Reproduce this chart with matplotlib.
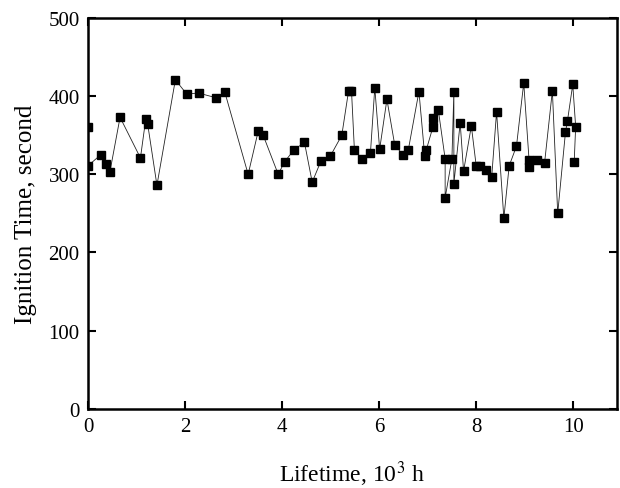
import matplotlib
matplotlib.use('Agg')
import matplotlib.pyplot as plt

# lifetime (10^3 h) and ignition time (s)
lifetime = [0.0, 0.0, 0.26, 0.37, 0.45, 0.66, 1.08, 1.19, 1.23, 1.42,
            1.80, 2.03, 2.28, 2.64, 2.82, 3.30, 3.51, 3.61, 3.92, 4.05,
            4.24, 4.46, 4.62, 4.80, 4.99, 5.23, 5.37, 5.43, 5.49, 5.65,
            5.82, 5.91, 6.01, 6.16, 6.32, 6.49, 6.60, 6.82, 6.94, 6.97,
            7.11, 7.11, 7.22, 7.36, 7.36, 7.50, 7.54, 7.54, 7.67, 7.74,
            7.90, 8.00, 8.07, 8.21, 8.32, 8.42, 8.57, 8.68, 8.83, 8.98,
            9.09, 9.09, 9.26, 9.41, 9.57, 9.68, 9.84, 9.88, 9.99, 10.05,
            10.02]
ignition = [360, 311, 325, 313, 303, 373, 321, 371, 364, 286,
            421, 403, 404, 398, 405, 300, 356, 350, 300, 316,
            331, 341, 290, 317, 323, 350, 407, 407, 331, 320,
            327, 411, 332, 396, 338, 325, 331, 406, 323, 331,
            361, 372, 382, 320, 270, 320, 406, 288, 366, 304,
            362, 311, 311, 305, 297, 380, 244, 311, 336, 417,
            318, 310, 318, 315, 407, 250, 354, 368, 415, 361,
            316]

plt.rcParams['font.family'] = ['Liberation Serif', 'DejaVu Serif']
plt.rcParams['mathtext.fontset'] = 'stix'

fig = plt.figure(figsize=(6.2, 4.89), dpi=100)
ax = fig.add_axes([0.142, 0.162, 0.853, 0.799])

ax.plot(lifetime, ignition, color='#222222', lw=0.6,
        marker='s', markersize=6, markerfacecolor='black',
        markeredgecolor='black')

ax.set_xlim(0, 10.9)
ax.set_ylim(0, 500)
ax.set_xticks([0, 2, 4, 6, 8, 10])
ax.set_yticks([0, 100, 200, 300, 400, 500])
ax.tick_params(direction='in', length=6, width=1.5, labelsize=15,
               top=True, right=True, pad=6)
for s in ax.spines.values():
    s.set_linewidth(1.8)

ax.set_xlabel('Lifetime, 10$^3$ h', fontsize=17, labelpad=16)
ax.set_ylabel('Ignition Time, second', fontsize=18, labelpad=8)

fig.savefig('out.png', dpi=100)
